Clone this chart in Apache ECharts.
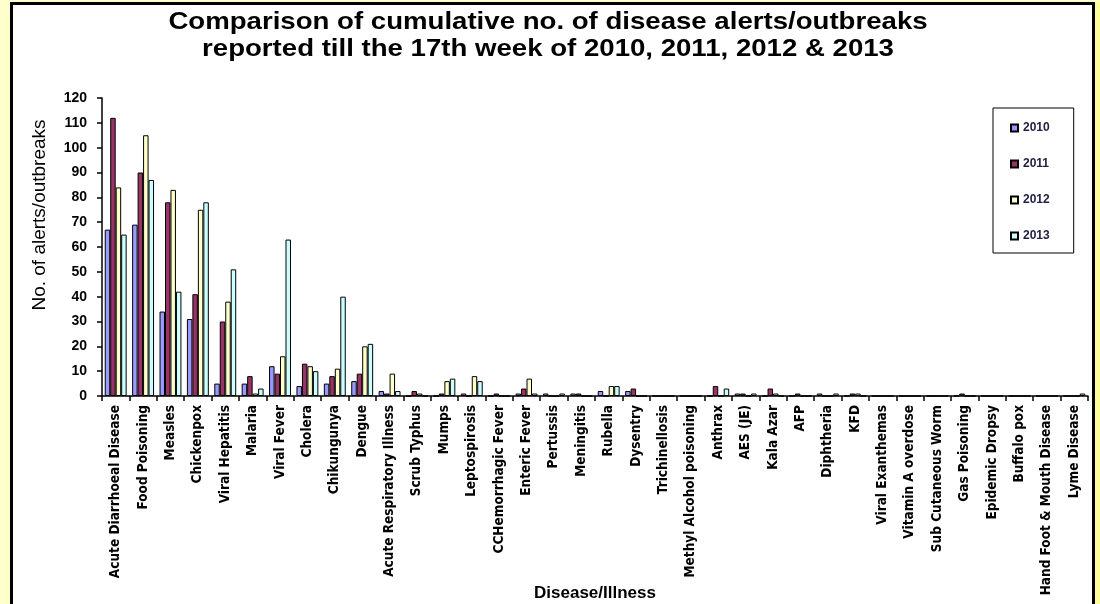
<!DOCTYPE html>
<html>
<head>
<meta charset="utf-8">
<script src="https://cdn.jsdelivr.net/npm/echarts@6/dist/echarts.min.js"></script>
<style>
html,body{margin:0;padding:0;background:#fff;}
#chart{width:1100px;height:604px;}
</style>
</head>
<body>
<div id="chart"></div>
<script>
const categories = ["Acute Diarrhoeal Disease","Food Poisoning","Measles","Chickenpox","Viral Hepatitis","Malaria","Viral Fever","Cholera","Chikungunya","Dengue","Acute Respiratory Illness","Scrub Typhus","Mumps","Leptospirosis","CCHemorrhagic Fever","Enteric Fever","Pertussis","Meningitis","Rubella","Dysentry","Trichinellosis","Methyl Alcohol poisoning","Anthrax","AES (JE)","Kala Azar","AFP","Diphtheria","KFD","Viral Exanthemas","Vitamin A overdose","Sub Cutaneous Worm","Gas Poisoning","Epidemic Dropsy","Buffalo pox","Hand Foot & Mouth Disease","Lyme Disease"];
const seriesNames = ["2010","2011","2012","2013"];
const v2010 = [67,69,34,31,5,5,12,4,5,6,2,0,0,1,0,1,1,1,2,2,0,0,0,1,0,0,1,0,0,0,0,0,0,0,0,0];
const v2011 = [112,90,78,41,30,8,9,13,8,9,1,2,1,0,1,3,0,1,0,3,0,0,4,1,3,1,0,1,0,0,0,1,0,0,0,0];
const v2012 = [84,105,83,75,38,1,16,12,11,20,9,1,6,8,0,7,0,0,4,0,0,0,0,0,1,0,0,1,0,0,0,0,0,0,0,0];
const v2013 = [65,87,42,78,51,3,63,10,40,21,2,0,7,6,0,1,1,0,4,0,0,0,3,1,0,0,1,0,0,0,0,0,0,0,0,1];
const yTicks = {min:0, max:120, interval:10};
const titleLines = ["Comparison of cumulative no. of disease alerts/outbreaks","reported till the 17th week of 2010, 2011, 2012 & 2013"];
const yAxisTitle = "No. of alerts/outbreaks";
const xAxisTitle = "Disease/Illness";

const colors = ["#9999FF","#993366","#FFFFCC","#CCFFFF"];
const values = [v2010, v2011, v2012, v2013];
const sans = "'Liberation Sans', Arial, sans-serif";
const narrow = "'Liberation Sans Narrow', 'Arial Narrow', 'DejaVu Sans Condensed', sans-serif";

const chart = echarts.init(document.getElementById('chart'), null, {renderer:'canvas'});
chart.setOption({
  backgroundColor:'#ffffff',
  animation:false,
  legend:{
    orient:'vertical', left:993, top:108,
    padding:[13,24,10,17],
    borderColor:'#000', borderWidth:1,
    itemWidth:7, itemHeight:7, itemGap:22,
    icon:'rect',
    textStyle:{fontFamily:sans, fontSize:12, fontWeight:'bold', color:'#222244', lineHeight:14},
    data: seriesNames
  },
  grid:{left:102, right:12, top:98, bottom:208, containLabel:false, outerBoundsMode:'none'},
  xAxis:{
    type:'category', data:categories,
    name:xAxisTitle, nameLocation:'middle', nameGap:189, nameMoveOverlap:false,
    nameTextStyle:{fontFamily:sans, fontSize:17, fontWeight:'bold', color:'#000'},
    axisLine:{lineStyle:{color:'#000', width:1.5}},
    axisTick:{show:true, length:5, lineStyle:{color:'#000', width:1.5}},
    axisLabel:{rotate:90, interval:0, margin:9, fontFamily:narrow, fontSize:13.5, fontWeight:'bold', color:'#000'},
    splitLine:{show:false}
  },
  yAxis:{
    type:'value', min:yTicks.min, max:yTicks.max, interval:yTicks.interval,
    axisLine:{show:true, lineStyle:{color:'#000', width:1.5}},
    axisTick:{show:true, length:5, lineStyle:{color:'#000', width:1.5}},
    axisLabel:{margin:15, fontFamily:sans, fontSize:14, fontWeight:'bold', color:'#000'},
    splitLine:{show:false}
  },
  series: seriesNames.map((n,i)=>({
    name:n, type:'bar', data:values[i],
    barGap:'0%', barCategoryGap:'20%',
    itemStyle:{color:colors[i], borderColor:'#000', borderWidth:1}
  })),
  graphic:[
    {type:'rect', shape:{x:0,y:0,width:10,height:604}, style:{fill:'#FFFFCC'}, z:100},
    {type:'rect', shape:{x:1095,y:0,width:5,height:604}, style:{fill:'#FFFF99'}, z:100},
    {type:'rect', shape:{x:0,y:0,width:1100,height:2}, style:{fill:'#FFFFCC'}, z:100},
    {type:'rect', shape:{x:10,y:2,width:3,height:602}, style:{fill:'#000'}, z:100},
    {type:'rect', shape:{x:1092,y:2,width:3,height:602}, style:{fill:'#000'}, z:100},
    {type:'rect', shape:{x:10,y:2,width:1085,height:3}, style:{fill:'#000'}, z:100},
    {type:'text', x:548, y:22, scaleX:1.15,
     style:{text:titleLines[0], fontFamily:sans, fontSize:24, fontWeight:'bold', fill:'#000', align:'center', verticalAlign:'middle'}},
    {type:'text', x:548, y:49, scaleX:1.15,
     style:{text:titleLines[1], fontFamily:sans, fontSize:24, fontWeight:'bold', fill:'#000', align:'center', verticalAlign:'middle'}},
    {type:'text', x:40, y:215, rotation:Math.PI/2,
     style:{text:yAxisTitle, fontFamily:sans, fontSize:19, fill:'#000', align:'center', verticalAlign:'middle'}}
  ]
});
</script>
</body>
</html>
